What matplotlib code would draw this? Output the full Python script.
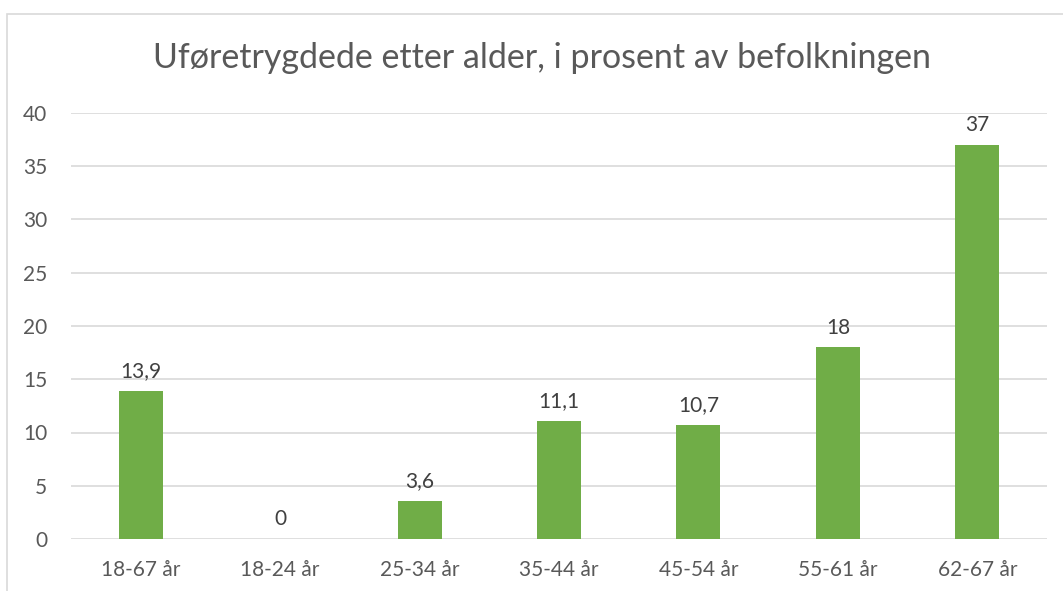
import matplotlib.pyplot as plt
from matplotlib.patches import Rectangle

# Uføretrygdede etter alder
categories = ['18-67 år', '18-24 år', '25-34 år', '35-44 år', '45-54 år', '55-61 år', '62-67 år']
values = [13.9, 0, 3.6, 11.1, 10.7, 18, 37]
labels = ['13,9', '0', '3,6', '11,1', '10,7', '18', '37']

plt.rcParams['font.family'] = ['Lato', 'DejaVu Sans']
text_color = '#595959'

fig = plt.figure(figsize=(10.63, 5.91), dpi=100)
ax = fig.add_axes([71 / 1063, 1 - 539 / 591, 976 / 1063, 426 / 591])

# chart border (cut off at right and bottom like the reference)
fig.patches.append(Rectangle((7 / 1063, -0.1), 1.2, 1 - 14 / 591 + 0.1,
                             transform=fig.transFigure, fill=False,
                             edgecolor='#D9D9D9', linewidth=1.2))

x = range(len(categories))
bars = ax.bar(x, values, width=0.315, color='#70AD47', zorder=3)

for i, (v, lab) in enumerate(zip(values, labels)):
    ax.annotate(lab, (i, v), textcoords='offset points', xytext=(0, 7),
                ha='center', va='bottom', fontsize=15, color='#404040')

ax.set_xlim(-0.5, len(categories) - 0.5)
ax.set_ylim(0, 40)
ax.set_yticks(range(0, 41, 5))
ax.set_xticks(list(x))
ax.set_xticklabels(categories)
ax.grid(axis='y', color='#D9D9D9', linewidth=1.2, zorder=0)
for s in ax.spines.values():
    s.set_visible(False)
ax.tick_params(axis='both', length=0, labelsize=15, labelcolor=text_color)
ax.tick_params(axis='y', pad=17)
ax.tick_params(axis='x', pad=15)

fig.text(542 / 1063, 1 - 58 / 591, 'Uføretrygdede etter alder, i prosent av befolkningen',
         ha='center', va='center', fontsize=24.5, color=text_color)

fig.savefig('out.png', dpi=100)
